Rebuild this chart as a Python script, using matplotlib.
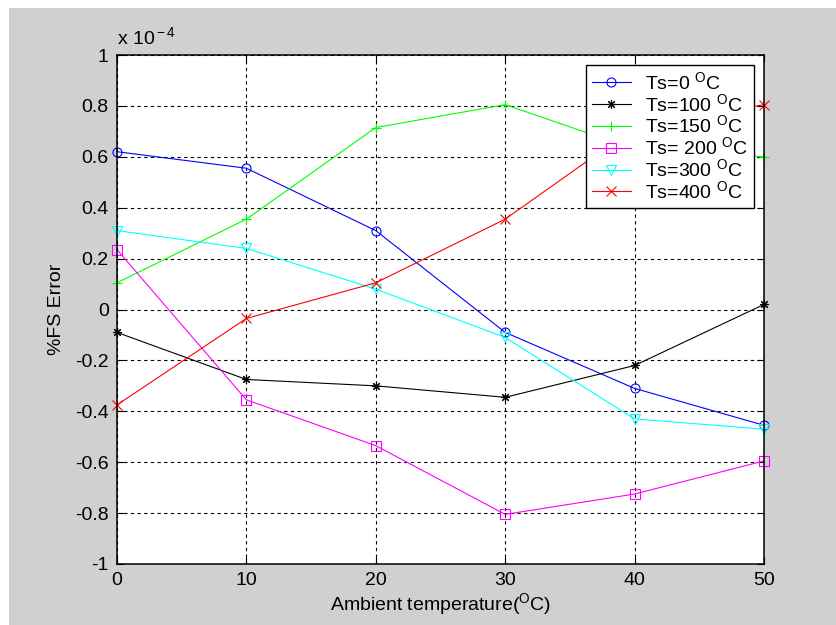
import matplotlib
matplotlib.use('Agg')
import matplotlib.pyplot as plt
from matplotlib.patches import Rectangle
import numpy as np

plt.rcParams['font.family'] = ['Liberation Sans', 'DejaVu Sans']
plt.rcParams['mathtext.fontset'] = 'custom'
plt.rcParams['mathtext.rm'] = 'Liberation Sans'
plt.rcParams['mathtext.it'] = 'Liberation Sans'
plt.rcParams['axes.unicode_minus'] = False

# -------------------------- data (x 1e-4) --------------------------
ambient = [0, 10, 20, 30, 40, 50]
ts_0 = [0.62, 0.555, 0.31, -0.09, -0.31, -0.455]
ts_100 = [-0.09, -0.275, -0.30, -0.345, -0.22, 0.02]
ts_150 = [0.105, 0.355, 0.715, 0.805, 0.63, 0.60]
ts_200 = [0.235, -0.355, -0.535, -0.805, -0.725, -0.595]
ts_300 = [0.31, 0.24, 0.08, -0.11, -0.43, -0.47]
ts_400 = [-0.375, -0.035, 0.105, 0.355, 0.715, 0.805]

labels = [r'Ts=0 $^{\rm O}$C', r'Ts=100 $^{\rm O}$C', r'Ts=150 $^{\rm O}$C',
          r'Ts= 200 $^{\rm O}$C', r'Ts=300 $^{\rm O}$C', r'Ts=400 $^{\rm O}$C']
colors = ['#0000ff', '#000000', '#00ff00', '#ff00ff', '#00ffff', '#ff0000']
markers = ['o', (8, 2, 0), '+', 's', 'v', 'x']
series = [ts_0, ts_100, ts_150, ts_200, ts_300, ts_400]

xticks = [0, 10, 20, 30, 40, 50]
yticks = [-1, -0.8, -0.6, -0.4, -0.2, 0, 0.2, 0.4, 0.6, 0.8, 1]
ytick_labels = ['-1', '-0.8', '-0.6', '-0.4', '-0.2', '0', '0.2', '0.4', '0.6', '0.8', '1']

FS = 14

# -------------------------- figure --------------------------
fig = plt.figure(figsize=(8.37, 6.25), dpi=100, facecolor='white')
# grey window area, leaving the thin white strip top and left
fig.patches.append(Rectangle((9 / 837, 0), 1, 1 - 8 / 625, transform=fig.transFigure,
                             facecolor='#d0d0d0', edgecolor='none', zorder=-10))

ax = fig.add_axes([117 / 837, 1 - 564 / 625, (764 - 117) / 837, (564 - 55) / 625])
ax.set_facecolor('white')

for ys, lab, c, m in zip(series, labels, colors, markers):
    ax.plot(ambient, ys, color=c, marker=m, markersize=6.5, markerfacecolor='none',
            markeredgecolor=c, markeredgewidth=0.8, linewidth=0.8, label=lab, clip_on=False)

ax.set_xlim(0, 50)
ax.set_ylim(-1, 1)
ax.set_xticks(xticks)
ax.set_yticks(yticks)
ax.set_yticklabels(ytick_labels)
ax.tick_params(direction='in', top=True, right=True, length=5, width=0.8,
               labelsize=FS, colors='black', pad=6)
for s in ax.spines.values():
    s.set_linewidth(1.1)
ax.grid(True, color='black', linestyle=(0, (3, 3)), linewidth=0.8)
ax.set_axisbelow(True)

ax.set_xlabel(r'Ambient temperature($^{\rm O}$C)', fontsize=FS, labelpad=1)
ax.set_ylabel('%FS Error', fontsize=FS, labelpad=7)
ax.text(0, 1.014, r'x 10$^{\rm -4}$', transform=ax.transAxes, fontsize=FS,
        ha='left', va='bottom')

leg = ax.legend(loc='upper right', bbox_to_anchor=((754 - 117) / 647, (564 - 65) / 509),
                borderaxespad=0, fontsize=FS, fancybox=False, framealpha=1,
                edgecolor='black', handlelength=2.0, handletextpad=0.75,
                labelspacing=0.0, borderpad=0.3)
leg.get_frame().set_linewidth(1.0)

fig.savefig('out.png', dpi=100, facecolor=fig.get_facecolor())
